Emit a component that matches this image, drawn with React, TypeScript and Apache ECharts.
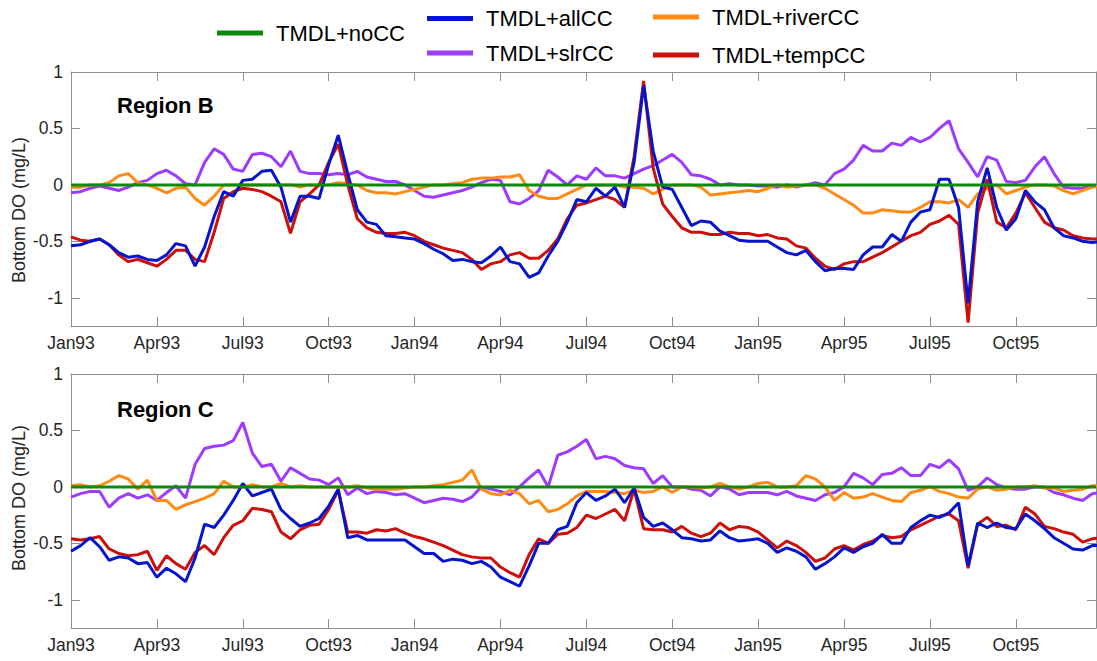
import { useEffect, useRef } from "react";
import * as echarts from "echarts";

// sampling step of the series (months since Jan 1993)
const STEP = 1 / 3;
const X_MAX = 35.8;

const xTickValues = [0, 3, 6, 9, 12, 15, 18, 21, 24, 27, 30, 33];
const xTickLabels = ["Jan93", "Apr93", "Jul93", "Oct93", "Jan94", "Apr94", "Jul94", "Oct94", "Jan95", "Apr95", "Jul95", "Oct95"];
const yTickValues = [-1, -0.5, 0, 0.5, 1];

const seriesNames = ["TMDL+noCC", "TMDL+allCC", "TMDL+riverCC", "TMDL+slrCC", "TMDL+tempCC"];
const panelTitles = ["Region B", "Region C"];

// Region B
const slrB = [
  -0.07, -0.06, -0.03, -0.01, -0.03, -0.05, -0.02, 0.02, 0.04, 0.1, 0.13, 0.08,
  0.01, 0.0, 0.2, 0.32, 0.27, 0.14, 0.12, 0.27, 0.28, 0.25, 0.16, 0.3,
  0.12, 0.1, 0.1, 0.09, 0.1, 0.09, 0.12, 0.07, 0.05, 0.03, 0.03, 0.0,
  -0.05, -0.1, -0.11, -0.09, -0.07, -0.05, -0.02, 0.02, 0.05, 0.04, -0.15, -0.17,
  -0.12, -0.05, 0.13, 0.07, 0.0, 0.08, 0.05, 0.15, 0.08, 0.08, 0.06, 0.1,
  0.14, 0.17, 0.22, 0.27, 0.2, 0.09, 0.08, 0.05, 0.0, 0.01, 0.0, 0.0,
  -0.01, -0.01, -0.02, 0.0, -0.02, 0.0, 0.02, 0.0, 0.1, 0.14, 0.22, 0.35,
  0.3, 0.3, 0.37, 0.35, 0.42, 0.38, 0.42, 0.5, 0.57, 0.32, 0.2, 0.07,
  0.25, 0.22, 0.03, 0.02, 0.04, 0.16, 0.25, 0.1, -0.02, -0.03, -0.03, -0.01,
  0.0,
];
const riverB = [
  -0.02, -0.02, 0.0, 0.0, 0.02, 0.08, 0.1, 0.02, 0.0, -0.03, -0.07, -0.03,
  -0.02, -0.12, -0.18, -0.1, 0.0, 0.0, 0.0, 0.0, 0.0, 0.0, 0.0, 0.0,
  -0.02, 0.0, 0.0, 0.0, 0.02, 0.01, 0.0, -0.05, -0.07, -0.07, -0.08, -0.06,
  -0.04, -0.02, 0.0, 0.0, 0.01, 0.02, 0.05, 0.06, 0.06, 0.07, 0.07, 0.09,
  -0.05, -0.1, -0.12, -0.12, -0.08, -0.04, 0.0, 0.0, 0.0, 0.0, -0.02, -0.02,
  -0.03, -0.08, -0.04, 0.0, 0.0, 0.0, -0.02, -0.09, -0.08, -0.07, -0.06, -0.05,
  -0.06, -0.03, 0.0, -0.02, -0.01, 0.0, 0.0, -0.03, -0.08, -0.13, -0.18, -0.25,
  -0.25, -0.22, -0.23, -0.24, -0.24, -0.2, -0.15, -0.15, -0.16, -0.13, -0.2, -0.08,
  -0.03, 0.0, -0.08, -0.05, -0.02, 0.0, 0.0, -0.01, -0.05, -0.08, -0.05, -0.02,
  -0.01,
];
const tempB = [
  -0.46, -0.49, -0.5, -0.48, -0.53, -0.62, -0.68, -0.66, -0.69, -0.72, -0.66, -0.58,
  -0.58, -0.66, -0.68, -0.42, -0.12, -0.06, -0.03, -0.04, -0.06, -0.1, -0.15, -0.43,
  -0.15, -0.08, 0.0, 0.2, 0.36, 0.0, -0.3, -0.38, -0.42, -0.43, -0.43, -0.42,
  -0.45, -0.5, -0.53, -0.56, -0.58, -0.6, -0.66, -0.75, -0.7, -0.68, -0.62, -0.6,
  -0.65, -0.65, -0.58, -0.48, -0.3, -0.18, -0.16, -0.13, -0.1, -0.13, -0.2, 0.25,
  0.92, 0.15, -0.17, -0.28, -0.38, -0.42, -0.42, -0.44, -0.44, -0.42, -0.43, -0.43,
  -0.45, -0.44, -0.47, -0.48, -0.54, -0.56, -0.65, -0.72, -0.75, -0.7, -0.68, -0.68,
  -0.64, -0.6, -0.55, -0.5, -0.45, -0.42, -0.35, -0.32, -0.27, -0.35, -1.22, -0.25,
  0.05, -0.33, -0.38, -0.25, -0.07, -0.2, -0.33, -0.38, -0.4, -0.45, -0.47, -0.48,
  -0.48,
];
const allB = [
  -0.54, -0.53, -0.5, -0.48, -0.53, -0.6, -0.64, -0.63, -0.66, -0.67, -0.62, -0.52,
  -0.54, -0.72, -0.55, -0.28, -0.06, -0.1, 0.04, 0.05, 0.12, 0.13, -0.02, -0.33,
  -0.1, -0.1, -0.12, 0.18, 0.44, 0.1, -0.22, -0.33, -0.35, -0.45, -0.46, -0.47,
  -0.48, -0.52, -0.57, -0.61, -0.67, -0.66, -0.68, -0.69, -0.63, -0.55, -0.68, -0.7,
  -0.82, -0.78, -0.63, -0.5, -0.33, -0.13, -0.15, -0.03, -0.1, -0.02, -0.2, 0.2,
  0.88, 0.3, -0.02, -0.04, -0.2, -0.36, -0.32, -0.33, -0.41, -0.45, -0.49, -0.5,
  -0.5, -0.5, -0.55, -0.6, -0.62, -0.58, -0.68, -0.76, -0.74, -0.74, -0.75, -0.62,
  -0.55, -0.55, -0.44, -0.5, -0.33, -0.24, -0.22, 0.05, 0.05, -0.2, -1.05, -0.15,
  0.15, -0.2, -0.4, -0.3, -0.05, -0.15, -0.22, -0.38, -0.45, -0.47, -0.5, -0.51,
  -0.5,
];

// Region C
const slrC = [
  -0.09, -0.06, -0.04, -0.04, -0.18, -0.1, -0.06, -0.1, -0.07, -0.12, -0.05, 0.01,
  -0.1, 0.2, 0.34, 0.36, 0.37, 0.41, 0.57, 0.3, 0.18, 0.2, 0.05, 0.17,
  0.12, 0.07, 0.06, 0.02, 0.08, -0.07, -0.01, -0.06, -0.04, -0.05, -0.07, -0.06,
  -0.1, -0.14, -0.12, -0.1, -0.11, -0.13, -0.09, 0.0, -0.02, -0.04, -0.07, 0.0,
  0.08, 0.15, 0.0, 0.28, 0.31, 0.36, 0.42, 0.25, 0.27, 0.25, 0.19, 0.17,
  0.16, 0.03, 0.1, 0.0, 0.0, -0.02, -0.03, -0.08, 0.0, -0.02, -0.07, -0.05,
  -0.05, -0.05, -0.07, -0.04, -0.08, -0.1, -0.12, -0.07, -0.05, 0.0, 0.12, 0.08,
  0.02, 0.11, 0.12, 0.17, 0.1, 0.1, 0.2, 0.17, 0.24, 0.16, -0.03, 0.0,
  0.08, 0.02, -0.01, -0.02, -0.02, 0.0, 0.0, -0.05, -0.07, -0.1, -0.12, -0.06,
  -0.05,
];
const riverC = [
  0.01, 0.02, 0.0, 0.01, 0.05, 0.1, 0.07, -0.02, 0.06, -0.12, -0.12, -0.2,
  -0.16, -0.13, -0.1, -0.06, 0.05, 0.0, 0.0, 0.02, 0.0, 0.0, 0.03, 0.0,
  0.01, 0.0, 0.0, 0.0, 0.0, 0.0, 0.01, -0.01, -0.02, -0.02, -0.02, -0.01,
  0.0, 0.0, 0.01, 0.02, 0.04, 0.06, 0.15, -0.02, -0.06, -0.07, -0.03, -0.06,
  -0.15, -0.12, -0.22, -0.2, -0.15, -0.08, -0.04, -0.04, -0.04, -0.05, -0.06, -0.03,
  -0.05, -0.04, 0.0, -0.05, 0.0, 0.0, -0.01, 0.0, 0.03, 0.0, -0.02, 0.0,
  0.03, 0.04, 0.0, 0.0, 0.01, 0.1, 0.07, 0.0, -0.12, -0.05, -0.1, -0.09,
  -0.06, -0.09, -0.12, -0.13, -0.05, -0.03, 0.0, -0.04, -0.06, -0.09, -0.1, -0.02,
  0.0, -0.03, -0.02, 0.0, 0.0, 0.01, -0.01, -0.01, -0.04, -0.03, -0.02, 0.01,
  0.01,
];
const tempC = [
  -0.46, -0.47, -0.46, -0.44, -0.55, -0.59, -0.61, -0.6, -0.57, -0.74, -0.61, -0.68,
  -0.73, -0.58, -0.52, -0.6, -0.45, -0.34, -0.3, -0.19, -0.2, -0.22, -0.4, -0.46,
  -0.38, -0.34, -0.33, -0.2, -0.03, -0.4, -0.4, -0.41, -0.38, -0.39, -0.37, -0.41,
  -0.44, -0.46, -0.49, -0.52, -0.56, -0.6, -0.62, -0.63, -0.63, -0.71, -0.76, -0.8,
  -0.6, -0.46, -0.5, -0.42, -0.41, -0.36, -0.25, -0.28, -0.24, -0.2, -0.3, -0.02,
  -0.37, -0.38, -0.38, -0.4, -0.35, -0.41, -0.44, -0.41, -0.32, -0.38, -0.35, -0.36,
  -0.4, -0.47, -0.54, -0.48, -0.52, -0.58, -0.66, -0.63, -0.55, -0.52, -0.56, -0.51,
  -0.48, -0.43, -0.45, -0.44, -0.38, -0.34, -0.3, -0.26, -0.24, -0.3, -0.72, -0.33,
  -0.27, -0.35, -0.34, -0.38, -0.18, -0.24, -0.35, -0.37, -0.4, -0.42, -0.49, -0.46,
  -0.45,
];
const allC = [
  -0.57, -0.52, -0.45, -0.53, -0.65, -0.62, -0.63, -0.68, -0.67, -0.8, -0.72, -0.77,
  -0.84, -0.63, -0.33, -0.36, -0.25, -0.12, 0.03, -0.08, -0.05, -0.02, -0.2, -0.28,
  -0.35, -0.32, -0.28, -0.17, -0.02, -0.45, -0.43, -0.47, -0.47, -0.47, -0.47, -0.47,
  -0.53, -0.59, -0.59, -0.66, -0.64, -0.65, -0.68, -0.66, -0.71, -0.8, -0.84, -0.88,
  -0.7, -0.5, -0.5, -0.38, -0.35, -0.14, -0.05, -0.12, -0.08, -0.02, -0.14, -0.01,
  -0.27, -0.35, -0.32, -0.38, -0.45, -0.46, -0.48, -0.47, -0.39, -0.45, -0.48, -0.47,
  -0.46, -0.5, -0.58, -0.54, -0.57, -0.62, -0.73, -0.68, -0.62, -0.54, -0.58, -0.53,
  -0.5, -0.42, -0.5, -0.5, -0.36, -0.3, -0.25, -0.27, -0.23, -0.14, -0.7, -0.32,
  -0.36, -0.32, -0.36, -0.37, -0.24, -0.3, -0.37, -0.45, -0.5, -0.55, -0.56, -0.52,
  -0.52,
];
// baseline scenario: zero difference over the whole period
const noCC = [
  [0, 0],
  [X_MAX, 0],
];

const panels = [
  { slr: slrB, river: riverB, temp: tempB, all: allB },
  { slr: slrC, river: riverC, temp: tempC, all: allC },
];

const COLORS: Record<string, string> = {
  "TMDL+noCC": "#0b8a0b",
  "TMDL+allCC": "#0515cc",
  "TMDL+riverCC": "#ff8a14",
  "TMDL+slrCC": "#9d3bff",
  "TMDL+tempCC": "#cd0f0a",
};

const FONT = "'Liberation Sans', Arial, Helvetica, sans-serif";
const AXIS_COLOR = "#8f8f8f";
const LABEL_COLOR = "#262626";

const toPoints = (vals: number[]) => vals.map((v, i) => [i * STEP, v]);

export default function App() {
  const ref = useRef<HTMLDivElement>(null);

  useEffect(() => {
    if (!ref.current) return;
    const chart = echarts.init(ref.current, null, { renderer: "svg" });

    const grids = [
      { left: 71, top: 72, width: 1025, height: 254 },
      { left: 71, top: 374, width: 1025, height: 254 },
    ];

    const xAxes: any[] = [];
    const yAxes: any[] = [];
    grids.forEach((_, g) => {
      const baseX = {
        type: "value",
        gridIndex: g,
        min: 0,
        max: X_MAX,
        splitLine: { show: false },
        axisLine: { show: true, onZero: false, lineStyle: { color: AXIS_COLOR, width: 1 } },
        axisTick: {
          show: true,
          inside: true,
          length: 9,
          customValues: xTickValues,
          lineStyle: { color: AXIS_COLOR, width: 1 },
        },
      };
      xAxes.push({
        ...baseX,
        position: "bottom",
        axisLabel: {
          show: true,
          customValues: xTickValues,
          formatter: (v: number) => {
            const i = xTickValues.findIndex((t) => Math.abs(t - v) < 1e-6);
            return i >= 0 ? xTickLabels[i] : "";
          },
          color: LABEL_COLOR,
          fontSize: 17.5,
          fontFamily: FONT,
          margin: 8,
        },
      });
      xAxes.push({ ...baseX, position: "top", axisLabel: { show: false } });

      const baseY = {
        type: "value",
        gridIndex: g,
        min: -1.25,
        max: 1,
        splitLine: { show: false },
        axisLine: { show: true, onZero: false, lineStyle: { color: AXIS_COLOR, width: 1 } },
        axisTick: {
          show: true,
          inside: true,
          length: 9,
          customValues: yTickValues,
          lineStyle: { color: AXIS_COLOR, width: 1 },
        },
      };
      yAxes.push({
        ...baseY,
        position: "left",
        axisLabel: {
          show: true,
          customValues: yTickValues,
          formatter: (v: number) => String(v),
          color: LABEL_COLOR,
          fontSize: 17.5,
          fontFamily: FONT,
          margin: 8,
        },
      });
      yAxes.push({ ...baseY, position: "right", axisLabel: { show: false } });
    });

    const series: any[] = [];
    panels.forEach((p, g) => {
      const xi = g * 2;
      const yi = g * 2;
      const mk = (name: string, data: any[]) => ({
        name,
        type: "line",
        xAxisIndex: xi,
        yAxisIndex: yi,
        data,
        showSymbol: false,
        symbol: "none",
        color: COLORS[name],
        lineStyle: { width: 3, color: COLORS[name] },
        emphasis: { disabled: true },
        silent: true,
      });
      series.push(mk("TMDL+slrCC", toPoints(p.slr)));
      series.push(mk("TMDL+riverCC", toPoints(p.river)));
      series.push(mk("TMDL+tempCC", toPoints(p.temp)));
      series.push(mk("TMDL+allCC", toPoints(p.all)));
      series.push(mk("TMDL+noCC", noCC));
    });

    const legendBase = {
      icon: "rect",
      itemWidth: 46,
      itemHeight: 5,
      padding: 0,
      selectedMode: false,
      textStyle: {
        fontSize: 22,
        fontFamily: FONT,
        color: "#000",
        lineHeight: 22,
        padding: [0, 0, 0, 8],
      },
    };

    chart.setOption({
      animation: false,
      textStyle: { fontFamily: FONT },
      grid: grids,
      xAxis: xAxes,
      yAxis: yAxes,
      legend: [
        { ...legendBase, data: [seriesNames[0]], left: 217, top: 22 },
        { ...legendBase, data: [seriesNames[1], seriesNames[3]], orient: "vertical", left: 427, top: 7.5, itemGap: 12.5 },
        { ...legendBase, data: [seriesNames[2], seriesNames[4]], orient: "vertical", left: 653, top: 6, itemGap: 16 },
      ],
      graphic: [
        {
          type: "text",
          x: 117,
          y: 105,
          silent: true,
          style: { text: panelTitles[0], fontSize: 22, fontWeight: "bold", fontFamily: FONT, fill: "#000", verticalAlign: "middle" },
        },
        {
          type: "text",
          x: 117,
          y: 409,
          silent: true,
          style: { text: panelTitles[1], fontSize: 22, fontWeight: "bold", fontFamily: FONT, fill: "#000", verticalAlign: "middle" },
        },
        {
          type: "text",
          x: 19,
          y: 210,
          rotation: Math.PI / 2,
          silent: true,
          style: { text: "Bottom DO (mg/L)", fontSize: 18, fontFamily: FONT, fill: LABEL_COLOR, align: "center", verticalAlign: "middle" },
        },
        {
          type: "text",
          x: 19,
          y: 498,
          rotation: Math.PI / 2,
          silent: true,
          style: { text: "Bottom DO (mg/L)", fontSize: 18, fontFamily: FONT, fill: LABEL_COLOR, align: "center", verticalAlign: "middle" },
        },
      ],
      series,
    });

    return () => chart.dispose();
  }, []);

  return (
    <div
      ref={ref}
      style={{ position: "fixed", left: 0, top: 0, width: 1097, height: 661, background: "#fff" }}
    />
  );
}
